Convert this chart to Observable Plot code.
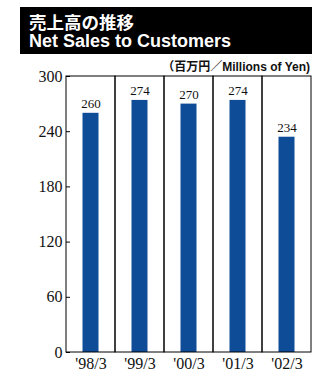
<!DOCTYPE html>
<html>
<head>
<meta charset="utf-8">
<script src="https://cdn.jsdelivr.net/npm/d3@7"></script>
<script src="https://cdn.jsdelivr.net/npm/@observablehq/plot@0.6"></script>
<style>
  html, body { margin: 0; padding: 0; background: #fff; }
  #wrap { position: relative; width: 312px; height: 369px; overflow: hidden; }
  #title {
    position: absolute; left: 20px; top: 7px; width: 283px; height: 36px;
    padding: 7px 0 4px 9px; background: #000; color: #fff;
    font-family: "Liberation Sans", "Noto Sans CJK JP", sans-serif;
    font-weight: bold; font-size: 18px; line-height: 18px;
  }
  #title div { height: 18px; line-height: 18px; white-space: nowrap; }
  #title .ja { font-size: 17.5px; }
  #sub {
    position: absolute; right: 2px; top: 60px;
    font-family: "Liberation Sans", "Noto Sans CJK JP", sans-serif;
    font-weight: bold; font-size: 12px; line-height: 14px; color: #111;
  }
  #chart { position: absolute; left: 0; top: 60px; }
</style>
</head>
<body>
<div id="wrap">
  <div id="title"><div class="ja">売上高の推移</div><div class="en">Net Sales to Customers</div></div>
  <div id="sub">（百万円／Millions of Yen)</div>
  <div id="chart"></div>
</div>
<script>
const categories = ["'98/3", "'99/3", "'00/3", "'01/3", "'02/3"];
const values = [260, 274, 270, 274, 234];
const yTicks = [0, 60, 120, 180, 240, 300];

const data = categories.map((c, i) => ({period: c, value: values[i]}));

const chart = Plot.plot({
  width: 312,
  height: 309,
  marginTop: 16,
  marginBottom: 17,
  marginLeft: 66,
  marginRight: 1,
  style: {fontFamily: "'Liberation Serif', serif", fontSize: "16px", color: "#111", background: "transparent"},
  x: {domain: categories, padding: 0, label: null},
  y: {domain: [0, 300], label: null},
  marks: [
    Plot.barY(data, {x: "period", y: "value", fill: "#0f4c97", insetLeft: 16.5, insetRight: 16.5}),
    Plot.cell(categories, {x: d => d, fill: "none", stroke: "#000", strokeWidth: 1}),
    Plot.tickY(yTicks, {y: d => d, x: () => categories[0], insetRight: 45, stroke: "#000"}),
    Plot.text(data, {x: "period", y: "value", text: d => String(d.value), dy: -5, lineAnchor: "bottom", fontSize: 13}),
    Plot.axisY({ticks: yTicks, tickSize: 0, tickPadding: 4, fontSize: 16, label: null}),
    Plot.axisX({tickSize: 0, tickPadding: 5, fontSize: 16, label: null})
  ]
});
document.getElementById("chart").appendChild(chart);
</script>
</body>
</html>
